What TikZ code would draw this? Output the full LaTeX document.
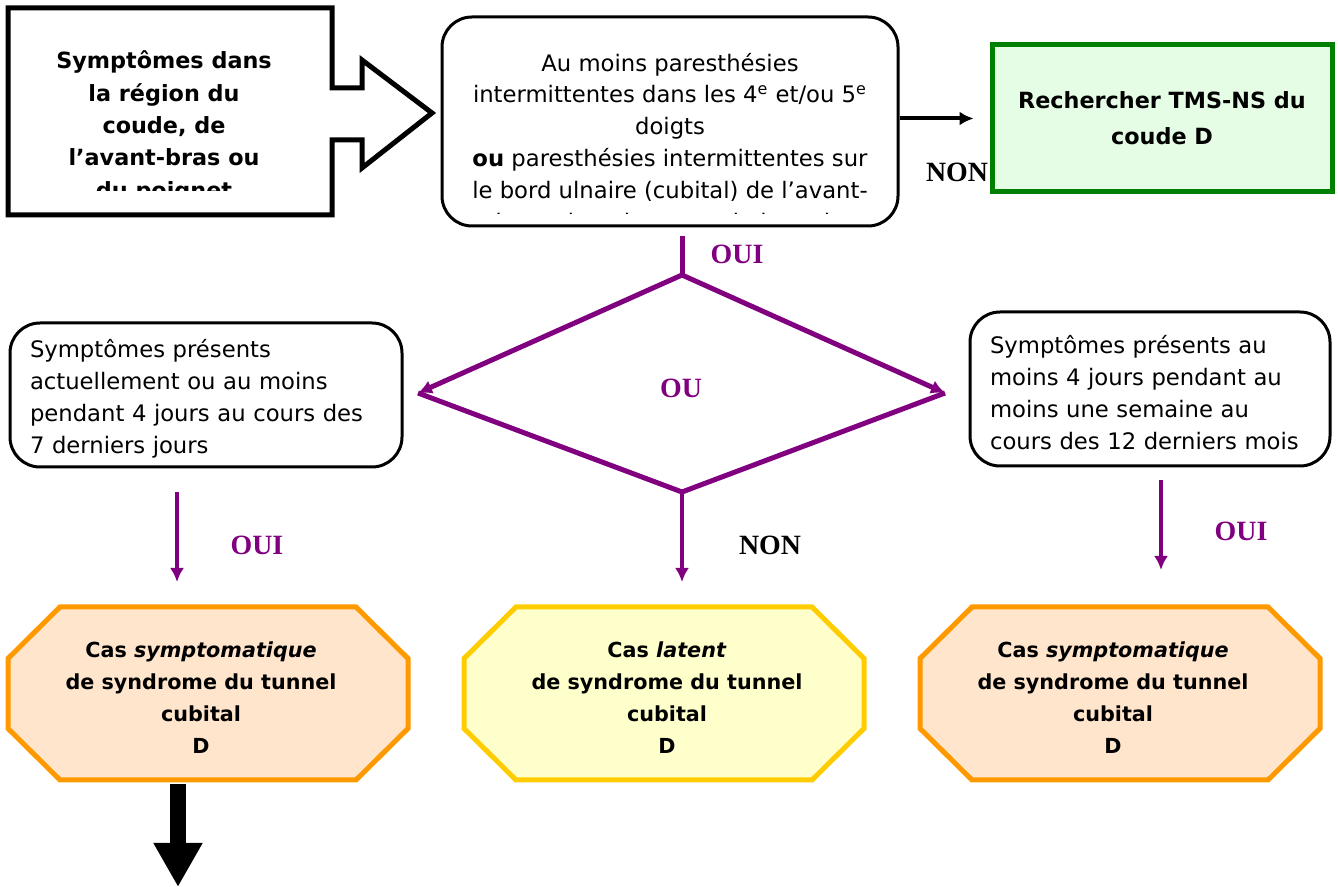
\documentclass[tikz,border=0pt]{standalone}
\usepackage{fontspec}
\setmainfont{DejaVu Sans}
\newfontfamily\labfont{Liberation Serif}
\usepackage{tikz}
\usetikzlibrary{arrows.meta,shapes}
\definecolor{oupurple}{RGB}{128,0,128}
\definecolor{tmsgreen}{RGB}{0,128,0}
\definecolor{tmsfill}{RGB}{229,252,229}
\definecolor{symorange}{RGB}{255,153,0}
\definecolor{symfill}{RGB}{255,229,204}
\definecolor{latyellow}{RGB}{255,204,0}
\definecolor{latfill}{RGB}{255,255,204}
% octagon behind a case node: centre, border colour, fill colour
\newcommand{\casoct}[3]{\filldraw [draw=#2, fill=#3, line width=2.5bp, shift={#1}]
  (-148bp,86.5bp) -- (148bp,86.5bp) -- (200bp,35bp) -- (200bp,-35bp) -- (148bp,-86.5bp)
  -- (-148bp,-86.5bp) -- (-200bp,-35bp) -- (-200bp,35bp) -- cycle;}

\begin{document}
\begin{tikzpicture}[>={Latex[length=7bp,width=7bp]}, scale=.5]
      \tikzstyle{every node}=[font=\fontsize{11.4}{16}\selectfont]
      \tikzstyle{roundbox}=[draw, line width=1.5bp, rounded corners=15bp, inner sep=0pt]
      \tikzstyle{castext}=[minimum width=200bp, minimum height=86.5bp, inner sep=0pt, align=center,
        font=\bfseries\fontsize{10.4}{16}\selectfont]
      \tikzstyle{lab}=[font=\labfont\bfseries\fontsize{14}{16}\selectfont]
      \tikzstyle{ouiarrow}=[->, draw=oupurple, line width=2bp]
      \useasboundingbox (0bp,0bp) rectangle (1338bp,887bp);
      %%
  \draw [line width=2.5bp, miter limit=20] (8bp,879bp) -- (332bp,879bp) -- (332bp,799bp) -- (362bp,799bp) -- (362bp,827bp)
     -- (432bp,774bp) -- (362bp,719bp) -- (362bp,747bp) -- (332bp,747bp) -- (332bp,672bp) -- (8bp,672bp) -- cycle;
  \begin{scope}
    \clip (8bp,696bp) rectangle (332bp,879bp);
    \node (symp) at (164bp,760bp) [align=center, font=\bfseries\fontsize{11.2}{16.2}\selectfont]
      {Symptômes dans\\la région du\\coude, de\\l’avant-bras ou\\du poignet};
  \end{scope}
  \node (crit) at (670bp,765.5bp) [roundbox, minimum width=228bp, minimum height=104.5bp] {};
  \begin{scope}
    \clip (442bp,673bp) rectangle (898bp,870bp);
    \node (crittxt) at (670bp,743bp) [align=center]
      {Au moins paresthésies\\intermittentes dans les 4\textsuperscript{e} et/ou 5\textsuperscript{e}\\doigts\\
       \textbf{ou} paresthésies intermittentes sur\\le bord ulnaire (cubital) de l’avant-\\bras, du poignet ou de la main};
  \end{scope}
  \node (non1) at (957bp,715bp) [lab] {NON};
  \node (tms) at (1162bp,768.5bp) [draw=tmsgreen, fill=tmsfill, line width=2.5bp, minimum width=170bp, minimum height=73.5bp,
     align=center, font=\bfseries\fontsize{11.2}{18}\selectfont] {Rechercher TMS-NS du\\coude D};
  \draw [->, line width=2bp, shorten >=8bp] (crit.east |- tms.west) -- (tms.west);
%
  \coordinate (ouitop) at (682bp,651bp);
  \coordinate (dtop) at (682bp,612bp);
  \coordinate (dleft) at (418bp,494bp);
  \coordinate (dright) at (945bp,494bp);
  \coordinate (dbot) at (682bp,395bp);
  \coordinate (nontip) at (682bp,305bp);
  \node (oui1) at (737bp,633bp) [lab, text=oupurple] {OUI};
  \node (ou) at (681bp,499bp) [lab, text=oupurple] {OU};
  \draw [oupurple, line width=2.5bp] (ouitop) -- (dtop);
  \draw [->, oupurple, line width=2.5bp] (dtop) -- (dleft);
  \draw [->, oupurple, line width=2.5bp] (dtop) -- (dright);
  \draw [oupurple, line width=2.5bp] (dleft) -- (dbot) -- (dright);
  \draw [ouiarrow] (dbot) -- (nontip);
  \node (non2) at (770bp,342bp) [lab] {NON};
%
  \node (recent) at (206bp,492bp) [roundbox, minimum width=196bp, minimum height=72bp] {};
  \node (recenttxt) at ([yshift=-3.5bp]recent.center) [text width=176bp, align=left]
    {Symptômes présents\\actuellement ou au moins\\pendant 4 jours au cours des\\7 derniers jours};
  \node (year) at (1150bp,498bp) [roundbox, minimum width=180bp, minimum height=77bp] {};
  \node (yeartxt) at ([yshift=-3.5bp]year.center) [text width=160bp, align=left]
    {Symptômes présents au\\moins 4 jours pendant au\\moins une semaine au\\cours des 12 derniers mois};
  \coordinate (lefts) at (177bp,395bp);
  \coordinate (leftt) at (177bp,305bp);
  \coordinate (rights) at (1161bp,407bp);
  \coordinate (rightt) at (1161bp,317bp);
  \draw [ouiarrow] (lefts) -- (leftt);
  \draw [ouiarrow] (rights) -- (rightt);
  \node (oui2) at (257bp,342bp) [lab, text=oupurple] {OUI};
  \node (oui3) at (1241bp,356bp) [lab, text=oupurple] {OUI};
%
  \casoct{(208bp,193.5bp)}{symorange}{symfill}
  \casoct{(664bp,193.5bp)}{latyellow}{latfill}
  \casoct{(1120bp,193.5bp)}{symorange}{symfill}
  \node (casL) at (201bp,189.5bp) [castext] {Cas \textit{symptomatique}\\de syndrome du tunnel\\cubital\\D};
  \node (casM) at (667bp,189.5bp) [castext] {Cas \textit{latent}\\de syndrome du tunnel\\cubital\\D};
  \node (casR) at (1113bp,189.5bp) [castext] {Cas \textit{symptomatique}\\de syndrome du tunnel\\cubital\\D};
  \coordinate (outtip) at (178bp,0bp);
  \draw [line width=8bp, -{Triangle[length=22bp,width=23bp]}] (casL.south -| outtip) -- (outtip);
%

    \end{tikzpicture}
\end{document}
